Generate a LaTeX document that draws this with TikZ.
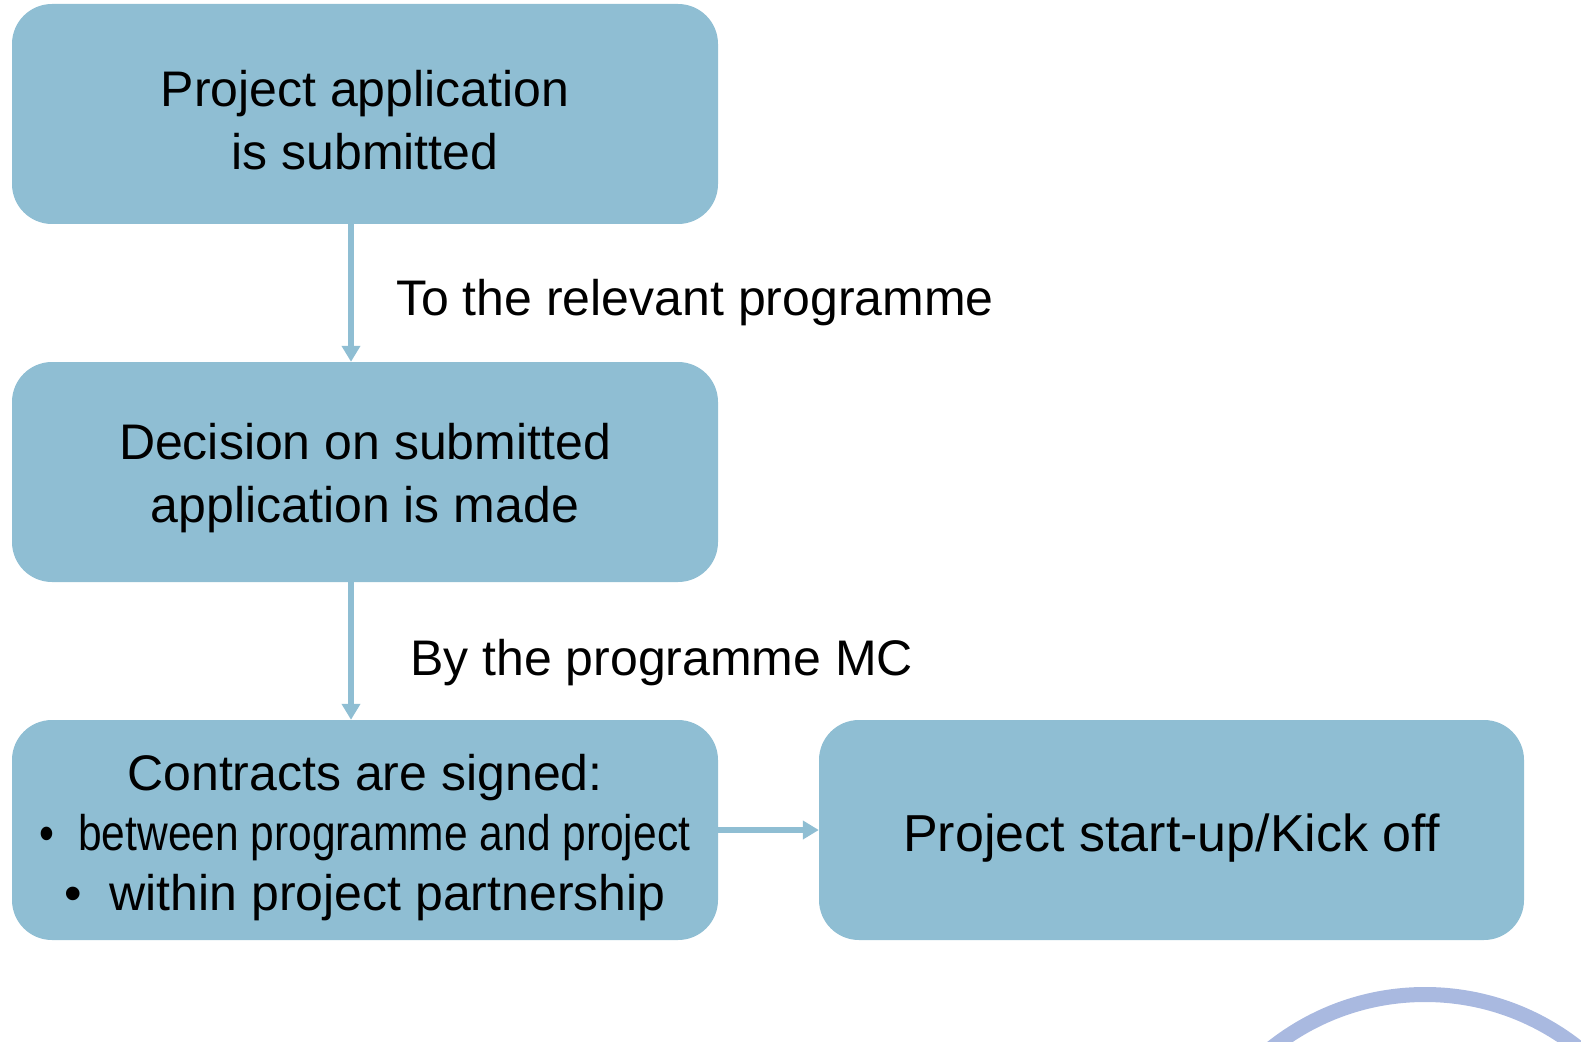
\documentclass[tikz,border=0pt]{standalone}
\usepackage{fontspec}
\setmainfont{Liberation Sans}
\usetikzlibrary{arrows.meta}
\definecolor{boxblue}{RGB}{143,190,211}
\definecolor{arcblue}{RGB}{169,185,224}
\begin{document}
\begin{tikzpicture}[x=1pt,y=-1pt,
  box/.style={draw=none, fill=boxblue, rounded corners=40pt, minimum width=706pt, minimum height=220pt, inner sep=0pt},
  txt/.style={align=center, inner sep=0pt, font=\fontsize{50}{63}\selectfont},
  conn/.style={draw=boxblue, line width=6pt, -{Triangle[width=18pt,length=16pt]}},
  lab/.style={anchor=base west, inner sep=0pt, font=\fontsize{50}{62}\selectfont}]
\useasboundingbox (0,0) rectangle (1581,1048);
\node[box] (a) at (365,114) {};
\node[box] (b) at (365,472) {};
\node[box] (c) at (365,830) {};
\node[box, minimum width=705pt] (d) at (1171.5,830) {};
\node[txt] (at) at ([yshift=-6pt]a.center) {Project application\\is submitted};
\node[txt] (bt) at ([yshift=-6pt]b.center) {Decision on submitted\\application is made};
\node[txt, font=\fontsize{50}{60}\selectfont] (ct) at ([yshift=-8pt]c.center) {Contracts are signed:\\\scalebox{0.85}[1]{\textbullet\ \ between programme and project}\\\textbullet\ \ within project partnership};
\node[txt, font=\fontsize{52}{63}\selectfont] (dt) at ([yshift=-8pt]d.center) {Project start-up/Kick off};
\coordinate (c1) at (351,0);
\draw[conn] (a.south -| c1) -- (b.north -| c1);
\draw[conn] (b.south -| c1) -- (c.north -| c1);
\draw[conn] (c) -- (d);
\node[lab] (l1) at (396,316) {To the relevant programme};
\node[lab] (l2) at (410,675) {By the programme MC};
\begin{scope}
\clip (0,0) rectangle (1581,1041);
\draw[arcblue, line width=15pt] (1425,1241) circle (246.5pt);
\end{scope}
\end{tikzpicture}
\end{document}
